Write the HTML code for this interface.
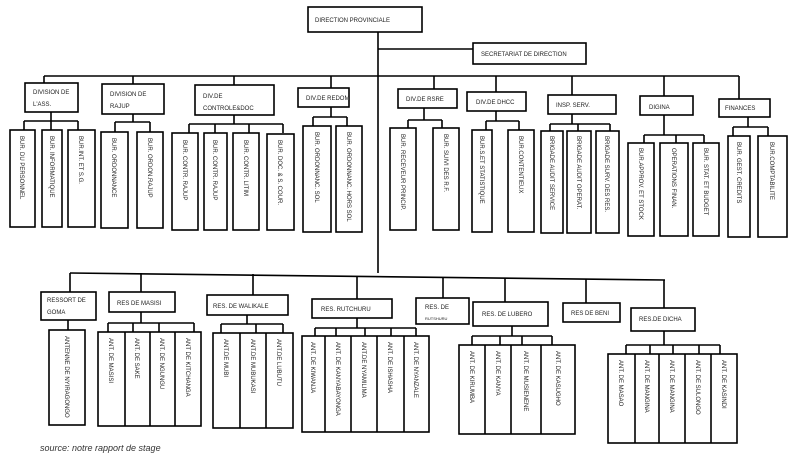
<!DOCTYPE html>
<html><head><meta charset="utf-8"><style>
html,body{margin:0;padding:0;background:#fff;}
svg{display:block;}
text{font-family:"Liberation Sans",sans-serif;font-size:6px;fill:#222;}
.v{font-size:5.8px;}
</style></head><body>
<svg width="800" height="461" viewBox="0 0 800 461" xmlns="http://www.w3.org/2000/svg">
<g fill="none" stroke="#000" stroke-width="1.6">
<!-- top -->
<rect x="308" y="7" width="114" height="25"/>
<line x1="378" y1="32" x2="378" y2="273"/>
<line x1="378" y1="49" x2="473" y2="49"/>
<rect x="473" y="43" width="113" height="21"/>
<line x1="44" y1="76" x2="739" y2="76"/>
<!-- div1 -->
<line x1="44" y1="76" x2="44" y2="83"/><rect x="25" y="83" width="53" height="29"/>
<line x1="51" y1="112" x2="51" y2="121"/><line x1="24" y1="121" x2="78" y2="121"/>
<line x1="24" y1="121" x2="24" y2="130"/><line x1="51" y1="121" x2="51" y2="130"/><line x1="78" y1="121" x2="78" y2="130"/>
<rect x="10" y="130" width="25" height="97"/><rect x="42" y="130" width="20" height="97"/><rect x="68" y="130" width="27" height="97"/>
<!-- div2 -->
<line x1="133" y1="76" x2="133" y2="84"/><rect x="102" y="84" width="62" height="30"/>
<line x1="133" y1="114" x2="133" y2="122"/><line x1="115" y1="122" x2="150" y2="122"/>
<line x1="115" y1="122" x2="115" y2="132"/><line x1="150" y1="122" x2="150" y2="132"/>
<rect x="101" y="132" width="27" height="96"/><rect x="137" y="132" width="26" height="96"/>
<!-- div3 -->
<line x1="234" y1="76" x2="234" y2="85"/><rect x="195" y="85" width="79" height="30"/>
<line x1="234" y1="115" x2="234" y2="124"/><line x1="189" y1="124" x2="283" y2="124"/>
<line x1="189" y1="124" x2="189" y2="133"/><line x1="215" y1="124" x2="215" y2="133"/><line x1="249" y1="124" x2="249" y2="133"/><line x1="283" y1="124" x2="283" y2="133"/>
<rect x="172" y="133" width="26" height="97"/><rect x="204" y="133" width="23" height="97"/><rect x="233" y="133" width="26" height="97"/><rect x="267" y="134" width="27" height="96"/>
<!-- div4 -->
<line x1="331" y1="76" x2="331" y2="88"/><rect x="298" y="88" width="51" height="19"/>
<line x1="331" y1="107" x2="331" y2="117"/><line x1="313" y1="117" x2="347" y2="117"/>
<line x1="313" y1="117" x2="313" y2="126"/><line x1="347" y1="117" x2="347" y2="126"/>
<rect x="303" y="126" width="28" height="106"/><rect x="336" y="126" width="26" height="106"/>
<!-- rsre -->
<line x1="434" y1="76" x2="434" y2="89"/><rect x="398" y="89" width="59" height="19"/>
<line x1="424" y1="108" x2="424" y2="120"/><line x1="408" y1="120" x2="442" y2="120"/>
<line x1="408" y1="120" x2="408" y2="128"/><line x1="442" y1="120" x2="442" y2="128"/>
<rect x="390" y="128" width="26" height="102"/><rect x="433" y="128" width="26" height="102"/>
<!-- dhcc -->
<line x1="496" y1="76" x2="496" y2="92"/><rect x="467" y="92" width="59" height="19"/>
<line x1="496" y1="111" x2="496" y2="121"/><line x1="486" y1="121" x2="519" y2="121"/>
<line x1="486" y1="121" x2="486" y2="130"/><line x1="519" y1="121" x2="519" y2="130"/>
<rect x="472" y="130" width="20" height="102"/><rect x="508" y="130" width="26" height="102"/>
<!-- insp -->
<line x1="572" y1="76" x2="572" y2="95"/><rect x="548" y="95" width="68" height="19"/>
<line x1="572" y1="114" x2="572" y2="124"/><line x1="550" y1="124" x2="610" y2="124"/>
<line x1="550" y1="124" x2="550" y2="131"/><line x1="578" y1="124" x2="578" y2="131"/><line x1="610" y1="124" x2="610" y2="131"/>
<rect x="541" y="131" width="22" height="102"/><rect x="567" y="131" width="24" height="102"/><rect x="596" y="131" width="23" height="102"/>
<!-- digina -->
<line x1="664" y1="76" x2="664" y2="96"/><rect x="640" y="96" width="53" height="19"/>
<line x1="664" y1="115" x2="664" y2="135"/><line x1="644" y1="135" x2="704" y2="135"/>
<line x1="644" y1="135" x2="644" y2="143"/><line x1="676" y1="135" x2="676" y2="143"/><line x1="704" y1="135" x2="704" y2="143"/>
<rect x="628" y="143" width="26" height="93"/><rect x="660" y="143" width="28" height="93"/><rect x="693" y="143" width="26" height="93"/>
<!-- finances -->
<line x1="739" y1="76" x2="739" y2="99"/><rect x="719" y="99" width="51" height="18"/>
<line x1="748" y1="117" x2="748" y2="127"/><line x1="733" y1="127" x2="768" y2="127"/>
<line x1="733" y1="127" x2="733" y2="136"/><line x1="768" y1="127" x2="768" y2="136"/>
<rect x="728" y="136" width="22" height="101"/><rect x="758" y="136" width="29" height="101"/>
<!-- bottom bar -->
<line x1="70" y1="273" x2="665" y2="280"/>
<!-- goma -->
<line x1="70" y1="273" x2="70" y2="292"/><rect x="41" y="292" width="55" height="28"/>
<line x1="68" y1="320" x2="68" y2="330"/><rect x="49" y="330" width="36" height="95"/>
<!-- masisi -->
<line x1="141" y1="273" x2="141" y2="292"/><rect x="109" y="292" width="66" height="20"/>
<line x1="141" y1="312" x2="141" y2="323"/><line x1="108" y1="323" x2="194" y2="323"/>
<line x1="108" y1="323" x2="108" y2="332"/><line x1="133" y1="323" x2="133" y2="332"/><line x1="159" y1="323" x2="159" y2="332"/><line x1="194" y1="323" x2="194" y2="332"/>
<rect x="98" y="332" width="103" height="94"/><line x1="125" y1="332" x2="125" y2="426"/><line x1="150" y1="332" x2="150" y2="426"/><line x1="175" y1="332" x2="175" y2="426"/>
<!-- walikale -->
<line x1="253" y1="274" x2="253" y2="295"/><rect x="207" y="295" width="81" height="20"/>
<line x1="247" y1="315" x2="247" y2="324"/><line x1="221" y1="324" x2="283" y2="324"/>
<line x1="221" y1="324" x2="221" y2="333"/><line x1="256" y1="324" x2="256" y2="333"/><line x1="283" y1="324" x2="283" y2="333"/>
<rect x="213" y="333" width="80" height="95"/><line x1="240" y1="333" x2="240" y2="428"/><line x1="266" y1="333" x2="266" y2="428"/>
<!-- rutchuru -->
<line x1="357" y1="276" x2="357" y2="299"/><rect x="312" y="299" width="80" height="19"/>
<line x1="357" y1="318" x2="357" y2="328"/><line x1="315" y1="328" x2="416" y2="328"/>
<line x1="315" y1="328" x2="315" y2="336"/><line x1="336" y1="328" x2="336" y2="336"/><line x1="365" y1="328" x2="365" y2="336"/><line x1="391" y1="328" x2="391" y2="336"/><line x1="416" y1="328" x2="416" y2="336"/>
<rect x="302" y="336" width="127" height="96"/><line x1="325" y1="336" x2="325" y2="432"/><line x1="351" y1="336" x2="351" y2="432"/><line x1="377" y1="336" x2="377" y2="432"/><line x1="404" y1="336" x2="404" y2="432"/>
<!-- rubero -->
<line x1="443" y1="277" x2="443" y2="298"/><rect x="416" y="298" width="53" height="26"/>
<!-- lubero -->
<line x1="505" y1="278" x2="505" y2="302"/><rect x="473" y="302" width="75" height="24"/>
<line x1="512" y1="326" x2="512" y2="336"/><line x1="472" y1="336" x2="552" y2="336"/>
<line x1="472" y1="336" x2="472" y2="345"/><line x1="500" y1="336" x2="500" y2="345"/><line x1="522" y1="336" x2="522" y2="345"/><line x1="552" y1="336" x2="552" y2="345"/>
<rect x="459" y="345" width="116" height="89"/><line x1="485" y1="345" x2="485" y2="434"/><line x1="511" y1="345" x2="511" y2="434"/><line x1="541" y1="345" x2="541" y2="434"/>
<!-- beni -->
<line x1="586" y1="279" x2="586" y2="303"/><rect x="563" y="303" width="57" height="19"/>
<!-- dicha -->
<line x1="664" y1="280" x2="664" y2="308"/><rect x="631" y="308" width="64" height="23"/>
<line x1="664" y1="331" x2="664" y2="345"/><line x1="626" y1="345" x2="720" y2="345"/>
<line x1="626" y1="345" x2="626" y2="354"/><line x1="650" y1="345" x2="650" y2="354"/><line x1="673" y1="345" x2="673" y2="354"/><line x1="699" y1="345" x2="699" y2="354"/><line x1="720" y1="345" x2="720" y2="354"/>
<rect x="608" y="354" width="129" height="89"/><line x1="635" y1="354" x2="635" y2="443"/><line x1="659" y1="354" x2="659" y2="443"/><line x1="685" y1="354" x2="685" y2="443"/><line x1="711" y1="354" x2="711" y2="443"/>
</g>
<!-- horizontal labels -->
<text x="315" y="22">DIRECTION PROVINCIALE</text>
<text x="481" y="56">SECRETARIAT DE DIRECTION</text>
<text x="33" y="94">DIVISION DE</text><text x="33" y="106">L'ASS.</text>
<text x="110" y="96">DIVISION  DE</text><text x="110" y="108">RAJUP</text>
<text x="203" y="98">DIV.DE</text><text x="203" y="110">CONTROLE&amp;DOC</text>
<text x="306" y="100">DIV.DE REDOM</text>
<text x="406" y="101">DIV.DE RSRE</text>
<text x="476" y="104">DIV.DE DHCC</text>
<text x="556" y="107">INSP. SERV.</text>
<text x="649" y="109">DIGINA</text>
<text x="725" y="110">FINANCES</text>
<text x="47" y="302">RESSORT DE</text><text x="47" y="314">GOMA</text>
<text x="117" y="305">RES DE MASISI</text>
<text x="213" y="308">RES. DE WALIKALE</text>
<text x="321" y="311">RES. RUTCHURU</text>
<text x="425" y="309">RES. DE</text><text x="425" y="320" style="font-size:4px">RUTSHURU</text>
<text x="482" y="316">RES. DE LUBERO</text>
<text x="571" y="315">RES DE BENI</text>
<text x="639" y="321">RES.DE DICHA</text>
<!-- vertical labels -->
<g class="v">
<text transform="translate(20,136) rotate(90)">BUR. DU PERSONNEL</text>
<text transform="translate(50,136) rotate(90)">BUR. INFORMATIQUE</text>
<text transform="translate(79,136) rotate(90)">BUR.INT. ET S.G.</text>
<text transform="translate(112,138) rotate(90)">BUR. ORDONNANCE</text>
<text transform="translate(148,138) rotate(90)">BUR. ORDON.RAJUP</text>
<text transform="translate(183,140) rotate(90)">BUR. CONTR. RAJUP</text>
<text transform="translate(213,140) rotate(90)">BUR. CONTR. RAJUP</text>
<text transform="translate(244,140) rotate(90)">BUR. CONTR. LITIM</text>
<text transform="translate(278,140) rotate(90)">BUR. DOC. &amp; S. COUR.</text>
<text transform="translate(315,132) rotate(90)">BUR. ORDONNANC. SOL</text>
<text transform="translate(347,132) rotate(90)">BUR. ORDONNANC. HORS SOL</text>
<text transform="translate(401,134) rotate(90)">BUR. RECEVEUR PRINCIP.</text>
<text transform="translate(444,134) rotate(90)">BUR. SUIVI DES R.F.</text>
<text transform="translate(480,136) rotate(90)">BUR.S.ET STATISTIQUE</text>
<text transform="translate(519,136) rotate(90)">BUR.CONTENTIEUX</text>
<text transform="translate(550,136) rotate(90)">BRIGADE AUDIT SERVICE</text>
<text transform="translate(577,136) rotate(90)">BRIGADE AUDIT OPERAT.</text>
<text transform="translate(605,136) rotate(90)">BRIGADE SURV. DES RES.</text>
<text transform="translate(639,148) rotate(90)">BUR.APPROV. ET STOCK</text>
<text transform="translate(672,148) rotate(90)">OPERATIONS FINAN.</text>
<text transform="translate(704,148) rotate(90)">BUR. STAT. ET BUDGET</text>
<text transform="translate(737,142) rotate(90)">BUR. GEST. CREDITS</text>
<text transform="translate(770,142) rotate(90)">BUR.COMPTABILITE</text>
<text transform="translate(65,336) rotate(90)">ANTENNE DE NYIRAGONGO</text>
<text transform="translate(109,338) rotate(90)">ANT. DE MASISI</text>
<text transform="translate(135,338) rotate(90)">ANT. DE SAKE</text>
<text transform="translate(160,338) rotate(90)">ANT. DE NGUNGU</text>
<text transform="translate(186,338) rotate(90)">ANT DE KITCHANGA</text>
<text transform="translate(224,339) rotate(90)">ANT.DE MUBI</text>
<text transform="translate(251,339) rotate(90)">ANT.DE MUBUKASI</text>
<text transform="translate(277,339) rotate(90)">ANT.DE LUBUTU</text>
<text transform="translate(311,342) rotate(90)">ANT. DE KIWANJA</text>
<text transform="translate(336,342) rotate(90)">ANT. DE KANYABAYONGA</text>
<text transform="translate(362,342) rotate(90)">ANT.DE NYAMILIMA</text>
<text transform="translate(388,342) rotate(90)">ANT. DE ISHASHA</text>
<text transform="translate(414,342) rotate(90)">ANT. DE NYANZALE</text>
<text transform="translate(470,351) rotate(90)">ANT. DE KIRUMBA</text>
<text transform="translate(496,351) rotate(90)">ANT. DE KANYA</text>
<text transform="translate(524,351) rotate(90)">ANT. DE MUSIENENE</text>
<text transform="translate(556,351) rotate(90)">ANT. DE KASUGHO</text>
<text transform="translate(619,360) rotate(90)">ANT. DE MASAO</text>
<text transform="translate(645,360) rotate(90)">ANT. DE MANGINA</text>
<text transform="translate(670,360) rotate(90)">ANT. DE MANGINA</text>
<text transform="translate(696,360) rotate(90)">ANT. DE SULONGO</text>
<text transform="translate(722,360) rotate(90)">ANT. DE KASINDI</text>
</g>
<text x="40" y="451" style="font-size:9px;font-style:italic;fill:#333">source: notre rapport de stage</text>
</svg>
</body></html>
